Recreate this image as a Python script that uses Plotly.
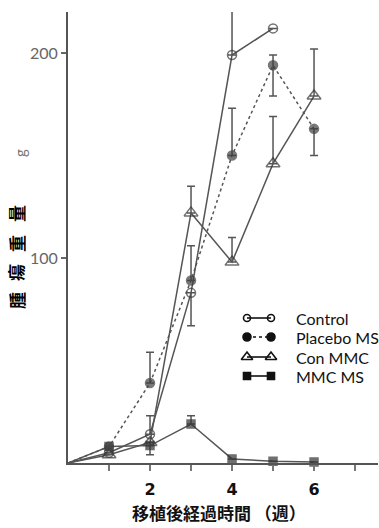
import plotly.graph_objects as go

weeks = [0, 1, 2, 3, 4, 5, 6]

control_weeks = [0, 1, 2, 3, 4, 5]
control = [0, 5, 14, 83, 199, 212]
control_up = [0, 0, 9, 0, 23, 0]
control_down = [0, 0, 0, 16, 0, 0]

placebo = [0, 8, 39, 89, 150, 194, 163]
placebo_up = [0, 0, 15, 17, 23, 5, 0]
placebo_down = [0, 0, 0, 0, 0, 15, 13]

conmmc = [0, 4, 10, 122, 98, 146, 179]
conmmc_up = [0, 0, 0, 13, 12, 23, 23]
conmmc_down = [0, 0, 6, 0, 0, 0, 0]

mmcms = [0, 8, 8.5, 19, 2, 0.8, 0.5]
mmcms_up = [0, 0, 0, 4, 0, 0, 0]

series_names = ["Control", "Placebo MS", "Con MMC", "MMC MS"]
x_ticks = [1, 2, 3, 4, 5, 6, 7]
x_ticktext = ["", "2", "", "4", "", "6", ""]
y_ticks = [100, 200]
y_ticktext = ["100", "200"]
x_title = "移植後経過時間 （週）"
y_title_chars = ["腫", "瘍", "重", "量"]
y_unit = "g"

LINE = "#555555"
MK = "#333333"

styles = {
    "Control": dict(symbol="circle-open", size=9, lsize=7, dash="solid", color=MK),
    "Placebo MS": dict(symbol="circle", size=9, lsize=8, dash="dot", color="#404040"),
    "Con MMC": dict(symbol="triangle-up-open", size=12, lsize=10, dash="solid", color=MK),
    "MMC MS": dict(symbol="square", size=8, lsize=7, dash="solid", color="#333333"),
}

fig = go.Figure()

def add_series(name, xs, ys, up, down):
    st = styles[name]
    sizes = [0] + [st["size"]] * (len(xs) - 1)
    fig.add_trace(go.Scatter(
        x=xs, y=ys, mode="lines+markers", name=name, showlegend=False,
        line=dict(color=LINE, width=1.5, dash=st["dash"]),
        marker=dict(symbol=st["symbol"], size=sizes, color=st["color"],
                    line=dict(color=st["color"], width=1.5)),
        error_y=dict(type="data", symmetric=False, array=up, arrayminus=down,
                     color=LINE, thickness=1.5, width=4),
        cliponaxis=False,
    ))

add_series("Control", control_weeks, control, control_up, control_down)
add_series("Con MMC", weeks, conmmc, conmmc_up, conmmc_down)
add_series("MMC MS", weeks, mmcms, mmcms_up, [0] * len(weeks))
add_series("Placebo MS", weeks, placebo, placebo_up, placebo_down)

# Manual legend on an overlay axis (0..1 spans the plot area)
def px_x(px):
    return (px - 68) / 310

def px_y(py):
    return (463 - py) / 451

leg_rows = [318, 337, 357, 376]
for name, py in zip(series_names, leg_rows):
    st = styles[name]
    yy = px_y(py)
    fig.add_trace(go.Scatter(
        x=[px_x(247), px_x(271)], y=[yy, yy], xaxis="x2", yaxis="y2",
        mode="lines+markers", showlegend=False, hoverinfo="skip",
        line=dict(color="#111111", width=1.6, dash=st["dash"]),
        marker=dict(symbol=st["symbol"], size=st["lsize"], color="#111111",
                    line=dict(color="#111111", width=1.6)),
    ))
    fig.add_annotation(x=px_x(294), y=yy, xref="x2", yref="y2", text=name,
                       showarrow=False, xanchor="left", yanchor="middle",
                       font=dict(family="Lato", size=16, color="#111111"))

fig.add_annotation(x=px_x(219), y=px_y(512), xref="paper", yref="paper", text=x_title,
                   showarrow=False, xanchor="center", yanchor="middle",
                   font=dict(family="Noto Sans CJK JP", size=17, color="#111111", weight="bold"))

char_y = [300, 272, 243, 213]
for ch, py in zip(y_title_chars, char_y):
    fig.add_annotation(x=px_x(16), y=px_y(py), xref="paper", yref="paper", text=ch,
                       showarrow=False, xanchor="center", yanchor="middle", textangle=-90,
                       font=dict(family="Noto Sans CJK JP", size=17, color="#000000", weight="bold"))
fig.add_annotation(x=px_x(20), y=px_y(153), xref="paper", yref="paper", text=y_unit,
                   showarrow=False, xanchor="center", yanchor="middle", textangle=-90,
                   font=dict(family="Lato", size=15, color="#777777"))

fig.update_layout(
    width=379, height=528,
    margin=dict(l=68, r=1, t=12, b=65),
    paper_bgcolor="white", plot_bgcolor="white",
    xaxis=dict(range=[0, 7.56], tickvals=x_ticks, ticktext=x_ticktext,
               showgrid=False, zeroline=False, showline=True, linecolor="#555555", linewidth=2,
               ticks="outside", ticklen=6, tickwidth=1.5, tickcolor="#777777",
               ticklabelstandoff=5,
               tickfont=dict(family="DejaVu Sans", size=16, color="#111111", weight="bold")),
    yaxis=dict(range=[0, 220], tickvals=y_ticks, ticktext=y_ticktext,
               showgrid=False, zeroline=False, showline=True, linecolor="#555555", linewidth=2,
               ticks="outside", ticklen=5, tickwidth=1.5, tickcolor="#666666",
               tickfont=dict(family="Lato", size=16, color="#666666")),
    xaxis2=dict(range=[0, 1], overlaying="x", visible=False),
    yaxis2=dict(range=[0, 1], overlaying="y", visible=False),
    showlegend=False,
)

fig.write_html("out.html", config={"displayModeBar": False},
               post_script="document.body.style.margin='0';document.body.style.overflow='hidden';")
